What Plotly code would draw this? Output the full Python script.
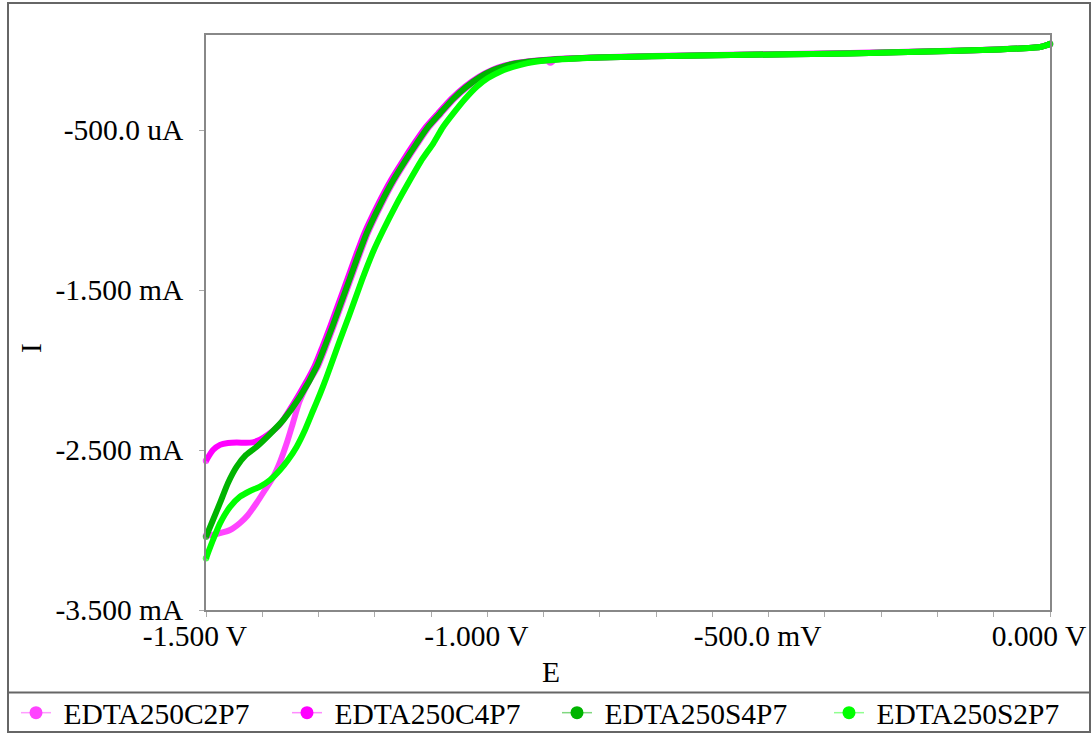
import plotly.graph_objects as go

# Potential (V) and current (mA) for each voltammogram
E_C2P7 = [-1.500, -1.4876, -1.4751, -1.4573, -1.4396, -1.4254, -1.4099, -1.3952, -1.3804, -1.3685,
          -1.3566, -1.3454, -1.3342, -1.3182, -1.3013, -1.2865, -1.2723, -1.2581, -1.2439, -1.2279,
          -1.2124, -1.1888, -1.1651, -1.1443, -1.1236, -1.1035, -1.0821, -1.0590, -1.0347, -1.0111,
          -0.9874, -0.9666, -0.9458, -0.8945, -0.8880, -0.8800, -0.7998, -0.6221, -0.3555, -0.1778,
          -0.0890, -0.0179, 0.000]
I_C2P7 = [-3.035, -3.030, -3.020, -3.000, -2.956, -2.906, -2.830, -2.750, -2.667, -2.575,
          -2.458, -2.330, -2.200, -2.080, -1.979, -1.850, -1.719, -1.581, -1.444, -1.2875,
          -1.144, -0.969, -0.8125, -0.694, -0.583, -0.481, -0.396, -0.306, -0.229, -0.169,
          -0.125, -0.100, -0.083, -0.066, -0.080, -0.062, -0.047, -0.034, -0.021, -0.006,
          0.004, 0.019, 0.0375]

E_C4P7 = [-1.500, -1.4876, -1.4751, -1.4609, -1.4454, -1.4289, -1.4170, -1.4040, -1.3900, -1.3700,
          -1.3370, -1.3073, -1.2925, -1.2783, -1.2641, -1.2499, -1.2339, -1.2184, -1.1948, -1.1711,
          -1.1503, -1.1296, -1.1090, -1.0875, -1.0640, -1.0395, -1.0155, -0.9915, -0.9700, -0.9490,
          -0.8945, -0.7998, -0.6221, -0.3555, -0.1778, -0.0890, -0.0179, 0.000]
I_C4P7 = [-2.567, -2.500, -2.468, -2.456, -2.453, -2.455, -2.452, -2.435, -2.404, -2.345,
          -2.167, -1.979, -1.850, -1.719, -1.581, -1.444, -1.2875, -1.144, -0.969, -0.8125,
          -0.694, -0.583, -0.481, -0.396, -0.306, -0.229, -0.169, -0.125, -0.098, -0.081,
          -0.060, -0.045, -0.032, -0.019, -0.005, 0.005, 0.020, 0.0375]

E_S4P7 = [-1.500, -1.4876, -1.4751, -1.4609, -1.4454, -1.4289, -1.4099, -1.3863, -1.3626, -1.3329,
          -1.3033, -1.2885, -1.2743, -1.2601, -1.2459, -1.2299, -1.2144, -1.1908, -1.1671, -1.1463,
          -1.1256, -1.1055, -1.0841, -1.0610, -1.0367, -1.0131, -0.9894, -0.9686, -0.9478, -0.8945,
          -0.7998, -0.6221, -0.3555, -0.1778, -0.0890, -0.0179, 0.000]
I_S4P7 = [-3.042, -2.9375, -2.831, -2.706, -2.604, -2.531, -2.479, -2.400, -2.3125, -2.167,
          -1.979, -1.850, -1.719, -1.581, -1.444, -1.2875, -1.144, -0.969, -0.8125, -0.694,
          -0.583, -0.481, -0.396, -0.306, -0.229, -0.169, -0.125, -0.100, -0.083, -0.0625,
          -0.047, -0.034, -0.021, -0.006, 0.004, 0.019, 0.0375]

E_S2P7 = [-1.500, -1.4876, -1.4751, -1.4573, -1.4396, -1.4218, -1.4040, -1.3863, -1.3685, -1.3543,
          -1.3388, -1.3241, -1.3093, -1.2974, -1.2855, -1.2619, -1.2459, -1.2228, -1.2032, -1.1849,
          -1.1623, -1.1375, -1.1179, -1.0960, -1.0788, -1.0605, -1.0397, -1.0189, -0.9988, -0.9775,
          -0.9544, -0.9301, -0.8945, -0.7998, -0.6221, -0.3555, -0.1778, -0.0890, -0.0179, 0.000]
I_S2P7 = [-3.177, -3.0625, -2.958, -2.856, -2.792, -2.756, -2.729, -2.6875, -2.625, -2.5625,
          -2.479, -2.375, -2.250, -2.150, -2.042, -1.8125, -1.6625, -1.4375, -1.2625, -1.125,
          -0.969, -0.8125, -0.694, -0.583, -0.481, -0.396, -0.306, -0.229, -0.175, -0.135,
          -0.106, -0.083, -0.066, -0.047, -0.034, -0.021, -0.006, 0.004, 0.019, 0.0375]

series = [
    ("EDTA250C2P7", E_C2P7, I_C2P7, "#ff44ff", "#ff9cff"),
    ("EDTA250C4P7", E_C4P7, I_C4P7, "#ff00ff", "#ff8cff"),
    ("EDTA250S4P7", E_S4P7, I_S4P7, "#00b400", "#80d880"),
    ("EDTA250S2P7", E_S2P7, I_S2P7, "#00ff00", "#90ff90"),
]

x_tickvals = [-1.5, -1.0, -0.5, 0.0]
x_ticktext = ["-1.500 V", "-1.000 V", "-500.0 mV", "0.000 V"]
x_minorvals = [round(-1.5 + 0.1 * k, 1) for k in range(16)]
y_tickvals = [-3.5, -2.5, -1.5, -0.5]
y_ticktext = ["-3.500 mA", "-2.500 mA", "-1.500 mA", "-500.0 uA"]
x_title, y_title = "E", "I"

FONT = "Liberation Serif"
FS = 29.5
fig = go.Figure()

for name, e, i, col, light in series:
    sizes = [6.5] + [0] * (len(e) - 2) + [6.5]
    fig.add_trace(go.Scatter(
        x=e, y=i, mode="lines+markers", name=name, showlegend=False,
        line=dict(color=col, width=6, shape="spline", smoothing=0.6),
        marker=dict(color=col, size=sizes, line=dict(width=0)),
        cliponaxis=False, hoverinfo="skip",
    ))

W, H = 1092, 733
L, R, T, B = 206, 42, 35, 123
pw, ph = W - L - R, H - T - B


def px(xp):
    return (xp - L) / pw


def py(yp):
    return (H - B - yp) / ph


# one legend box per entry so the entries sit on a fixed pitch along the bottom strip
legend_left = [16, 287, 557, 829]
legend_layouts = {}
for k, (name, e, i, col, light) in enumerate(series):
    key = "legend" if k == 0 else f"legend{k + 1}"
    fig.add_trace(go.Scatter(
        x=[None], y=[None], mode="lines+markers", name="\u00a0" + name, legend=key,
        line=dict(color=light, width=1.5),
        marker=dict(color=col, size=13, line=dict(width=0)),
    ))
    legend_layouts[key] = dict(
        orientation="h", x=px(legend_left[k]), xanchor="left", y=py(713), yanchor="middle",
        bgcolor="rgba(0,0,0,0)", font=dict(family=FONT, size=FS, color="black"),
        itemclick=False, itemdoubleclick=False,
    )

shapes = [
    dict(type="rect", xref="paper", yref="paper", x0=px(8), x1=px(1090), y0=py(732), y1=py(3),
         line=dict(color="#666666", width=2), layer="below"),
    dict(type="line", xref="paper", yref="paper", x0=px(8), x1=px(1090), y0=py(692.5), y1=py(692.5),
         line=dict(color="#666666", width=2)),
]

annotations = [
    dict(text=x_title, xref="paper", yref="paper", x=px(551), y=py(672), xanchor="center", yanchor="middle",
         showarrow=False, font=dict(family=FONT, size=FS, color="black")),
    dict(text=y_title, xref="paper", yref="paper", x=px(31), y=py(348), xanchor="center", yanchor="middle",
         textangle=-90, showarrow=False, font=dict(family=FONT, size=FS, color="black")),
]

fig.update_layout(
    width=W, height=H,
    margin=dict(l=L, r=R, t=T, b=B, autoexpand=False),
    paper_bgcolor="white", plot_bgcolor="white",
    font=dict(family=FONT, size=FS, color="black"),
    shapes=shapes,
    annotations=annotations,
    showlegend=True,
    xaxis=dict(
        range=[-1.5, 0.0], tickmode="array", tickvals=x_tickvals, ticktext=x_ticktext,
        ticks="outside", ticklen=5, tickcolor="#aaaaaa", ticklabelshift=-11, ticklabelstandoff=-6,
        minor=dict(tickmode="array", tickvals=x_minorvals, ticks="outside", ticklen=5, tickcolor="#aaaaaa"),
        showline=True, linecolor="#888888", linewidth=1.5, mirror=True,
        showgrid=False, zeroline=False, automargin=False,
    ),
    yaxis=dict(
        range=[-3.5, 0.094], tickmode="array", tickvals=y_tickvals, ticktext=y_ticktext,
        ticks="outside", ticklen=5, tickcolor="#aaaaaa", ticklabelstandoff=10,
        showline=True, linecolor="#888888", linewidth=1.5, mirror=True,
        showgrid=False, zeroline=False, automargin=False,
    ),
    **legend_layouts,
)

fig.write_html("out.html")
